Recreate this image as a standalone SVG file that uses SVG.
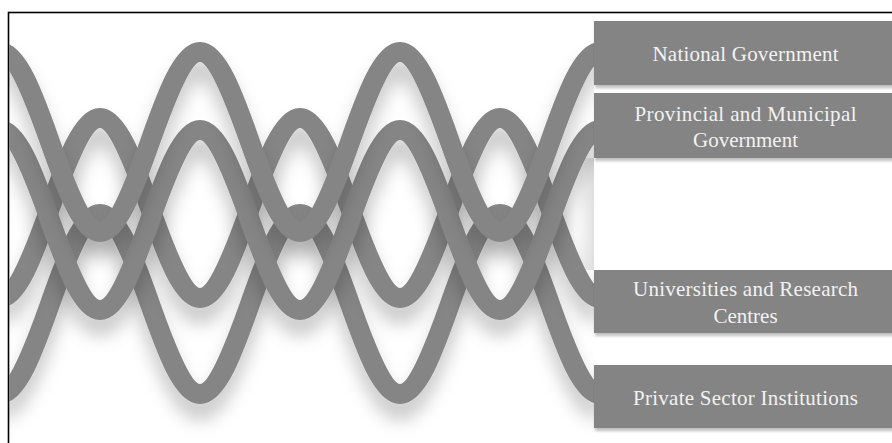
<svg xmlns="http://www.w3.org/2000/svg" width="892" height="443" viewBox="0 0 892 443">
  <style>
    .strand { fill: none; stroke: #858585; stroke-width: 20; stroke-linecap: butt; filter: url(#strandShadow); }
    .box { fill: #848484; filter: url(#boxShadow); }
    .label { font-family: "Liberation Serif", "Times New Roman", serif; font-size: 21px; fill: #f2f2f2; text-anchor: middle; }
  </style>
  <defs>
    <filter id="strandShadow" x="-10%" y="-30%" width="120%" height="160%">
      <feGaussianBlur in="SourceAlpha" stdDeviation="9"/>
      <feOffset dx="0" dy="16" result="blur"/>
      <feFlood flood-color="#000" flood-opacity="0.22"/>
      <feComposite in2="blur" operator="in" result="shadow"/>
      <feMerge>
        <feMergeNode in="shadow"/>
        <feMergeNode in="SourceGraphic"/>
      </feMerge>
    </filter>
    <filter id="boxShadow" x="-5%" y="-10%" width="110%" height="130%">
      <feGaussianBlur in="SourceAlpha" stdDeviation="1.5"/>
      <feOffset dx="1" dy="3" result="blur"/>
      <feFlood flood-color="#000" flood-opacity="0.25"/>
      <feComposite in2="blur" operator="in" result="shadow"/>
      <feMerge>
        <feMergeNode in="shadow"/>
        <feMergeNode in="SourceGraphic"/>
      </feMerge>
    </filter>
    <clipPath id="waveArea">
      <rect x="9" y="13" width="585" height="430"/>
    </clipPath>
    <linearGradient id="edgeShade" x1="0" y1="0" x2="1" y2="0">
      <stop offset="0" stop-color="#000" stop-opacity="0"/>
      <stop offset="1" stop-color="#000" stop-opacity="0.12"/>
    </linearGradient>
  </defs>

  <rect width="892" height="443" fill="#fff"/>

  <!-- frame -->
  <rect x="8.5" y="12.5" width="900" height="450" fill="none" stroke="#000" stroke-width="1.6"/>

  <!-- soft shade along the left edge of the label column -->
  <rect x="576" y="158" width="18" height="112" fill="url(#edgeShade)"/>

  <!-- four interwoven sine strands, period 200, amplitude 90 -->
  <g id="connectors" clip-path="url(#waveArea)">
    <path id="strand-private" class="strand" d="M0,394 c17.48,0 33.73,-44 50,-90 s32.52,-90 50,-90 s33.73,44 50,90 s32.52,90 50,90 s33.73,-44 50,-90 s32.52,-90 50,-90 s33.73,44 50,90 s32.52,90 50,90 s33.73,-44 50,-90 s32.52,-90 50,-90 s33.73,44 50,90 s32.52,90 50,90"/>
    <path id="strand-universities" class="strand" d="M0,298 c17.48,0 33.73,-44 50,-90 s32.52,-90 50,-90 s33.73,44 50,90 s32.52,90 50,90 s33.73,-44 50,-90 s32.52,-90 50,-90 s33.73,44 50,90 s32.52,90 50,90 s33.73,-44 50,-90 s32.52,-90 50,-90 s33.73,44 50,90 s32.52,90 50,90"/>
    <path id="strand-provincial" class="strand" d="M0,130 c17.48,0 33.73,44 50,90 s32.52,90 50,90 s33.73,-44 50,-90 s32.52,-90 50,-90 s33.73,44 50,90 s32.52,90 50,90 s33.73,-44 50,-90 s32.52,-90 50,-90 s33.73,44 50,90 s32.52,90 50,90 s33.73,-44 50,-90 s32.52,-90 50,-90"/>
    <path id="strand-national" class="strand" d="M0,52 c17.48,0 33.73,44 50,90 s32.52,90 50,90 s33.73,-44 50,-90 s32.52,-90 50,-90 s33.73,44 50,90 s32.52,90 50,90 s33.73,-44 50,-90 s32.52,-90 50,-90 s33.73,44 50,90 s32.52,90 50,90 s33.73,-44 50,-90 s32.52,-90 50,-90"/>
  </g>

  <g id="node-national">
    <rect class="box" x="594" y="21" width="310" height="64"/>
    <text class="label" x="745.5" y="61" textLength="186" lengthAdjust="spacing">National Government</text>
  </g>

  <g id="node-provincial">
    <rect class="box" x="594" y="93" width="310" height="65"/>
    <text class="label" x="745.5" y="121" textLength="222" lengthAdjust="spacing">Provincial and Municipal</text>
    <text class="label" x="745.5" y="147">Government</text>
  </g>

  <g id="node-universities">
    <rect class="box" x="594" y="270" width="310" height="63"/>
    <text class="label" x="745.5" y="296" textLength="225" lengthAdjust="spacing">Universities and Research</text>
    <text class="label" x="745.5" y="323">Centres</text>
  </g>

  <g id="node-private">
    <rect class="box" x="594" y="365" width="310" height="63"/>
    <text class="label" x="745.5" y="405" textLength="225" lengthAdjust="spacing">Private Sector Institutions</text>
  </g>
</svg>
